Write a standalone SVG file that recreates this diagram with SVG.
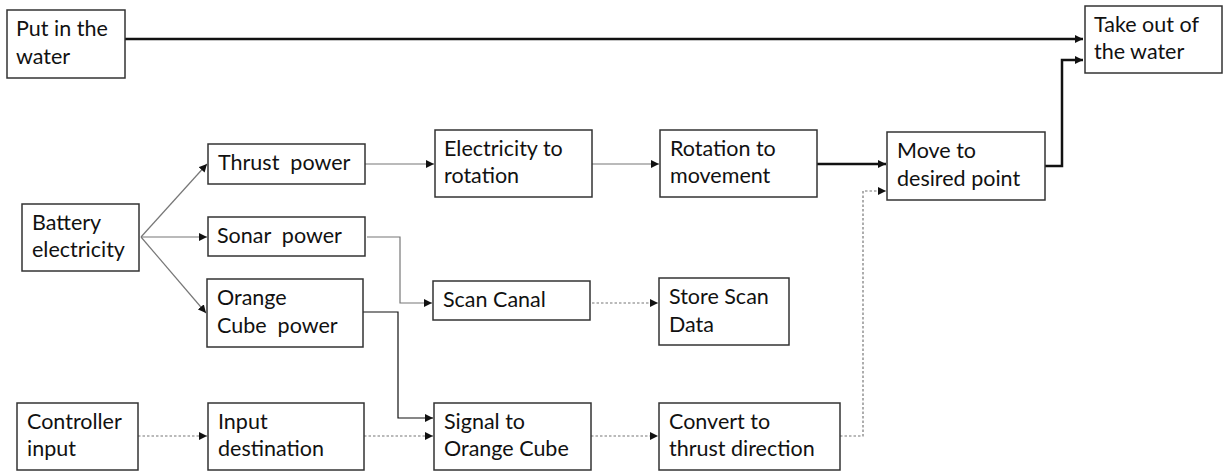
<svg xmlns="http://www.w3.org/2000/svg" width="1225" height="471" viewBox="0 0 1225 471">
<defs>
<style>
.box{fill:#fff;stroke:#333;stroke-width:1.5}
.t{font-family:Lato,"Open Sans","Liberation Sans",sans-serif;font-size:21.5px;fill:#111;white-space:pre}
.thick{fill:none;stroke:#111;stroke-width:2.5}
.thin{fill:none;stroke:#111;stroke-width:1.2}
.gray{fill:none;stroke:#777;stroke-width:1.2}
.dot{fill:none;stroke:#777;stroke-width:1.2;stroke-dasharray:2.5 2}
</style>
<marker id="ah" viewBox="0 0 10 10" refX="10" refY="5" markerWidth="8" markerHeight="8" markerUnits="userSpaceOnUse" orient="auto"><path d="M0,0 L10,5 L0,10 z" fill="#111"/></marker>
</defs>
<g id="connectors">
<path class="thick" d="M125,39 H1083" marker-end="url(#ah)"/>
<path class="thick" d="M1045,166 H1062 V60 H1083" marker-end="url(#ah)"/>
<path class="gray" d="M141,237 L207,164" marker-end="url(#ah)"/>
<path class="gray" d="M141,237 H207" marker-end="url(#ah)"/>
<path class="gray" d="M141,237 L206,313" marker-end="url(#ah)"/>
<path class="gray" d="M365,164 H434" marker-end="url(#ah)"/>
<path class="gray" d="M592,164 H659" marker-end="url(#ah)"/>
<path class="thick" d="M817,164 H886" marker-end="url(#ah)"/>
<path class="gray" d="M367,237 H400 V303 H432" marker-end="url(#ah)"/>
<path class="dot" d="M592,303 H658" marker-end="url(#ah)"/>
<path class="thin" d="M363,312 H398 V418 H433" marker-end="url(#ah)"/>
<path class="dot" d="M138,436 H207" marker-end="url(#ah)"/>
<path class="dot" d="M364,436 H433" marker-end="url(#ah)"/>
<path class="dot" d="M591,436 H658" marker-end="url(#ah)"/>
<path class="dot" d="M840,436 H863 V191 H886" marker-end="url(#ah)"/>
</g>
<g id="put"><rect class="box" x="7" y="10" width="118" height="68"/><text class="t" x="16" y="36">Put in the</text><text class="t" x="16" y="64">water</text></g>
<g id="takeout"><rect class="box" x="1085" y="6" width="137" height="67"/><text class="t" x="1094" y="32">Take out of</text><text class="t" x="1094" y="59">the water</text></g>
<g id="battery"><rect class="box" x="22" y="204" width="117" height="67"/><text class="t" x="32" y="230">Battery</text><text class="t" x="32" y="257">electricity</text></g>
<g id="thrust"><rect class="box" x="208" y="144" width="157" height="40"/><text class="t" x="218" y="170">Thrust  power</text></g>
<g id="sonar"><rect class="box" x="208" y="217" width="157" height="39"/><text class="t" x="217" y="243">Sonar  power</text></g>
<g id="orange"><rect class="box" x="207" y="279" width="156" height="68"/><text class="t" x="217" y="305">Orange</text><text class="t" x="217" y="333">Cube  power</text></g>
<g id="elec"><rect class="box" x="435" y="130" width="157" height="67"/><text class="t" x="444" y="156">Electricity to</text><text class="t" x="444" y="183">rotation</text></g>
<g id="rot"><rect class="box" x="660" y="130" width="157" height="67"/><text class="t" x="670" y="156">Rotation to</text><text class="t" x="670" y="183">movement</text></g>
<g id="move"><rect class="box" x="887" y="132" width="158" height="68"/><text class="t" x="897" y="158">Move to</text><text class="t" x="897" y="186">desired point</text></g>
<g id="scan"><rect class="box" x="433" y="281" width="157" height="39"/><text class="t" x="443" y="307">Scan Canal</text></g>
<g id="store"><rect class="box" x="659" y="278" width="130" height="67"/><text class="t" x="669" y="304">Store Scan</text><text class="t" x="669" y="332">Data</text></g>
<g id="controller"><rect class="box" x="17" y="403" width="121" height="67"/><text class="t" x="27" y="429">Controller</text><text class="t" x="27" y="456">input</text></g>
<g id="inputdest"><rect class="box" x="208" y="403" width="156" height="67"/><text class="t" x="218" y="429">Input</text><text class="t" x="218" y="456">destination</text></g>
<g id="signal"><rect class="box" x="434" y="403" width="157" height="67"/><text class="t" x="444" y="429">Signal to</text><text class="t" x="444" y="456">Orange Cube</text></g>
<g id="convert"><rect class="box" x="659" y="403" width="181" height="67"/><text class="t" x="669" y="429">Convert to</text><text class="t" x="669" y="456">thrust direction</text></g>
</svg>
